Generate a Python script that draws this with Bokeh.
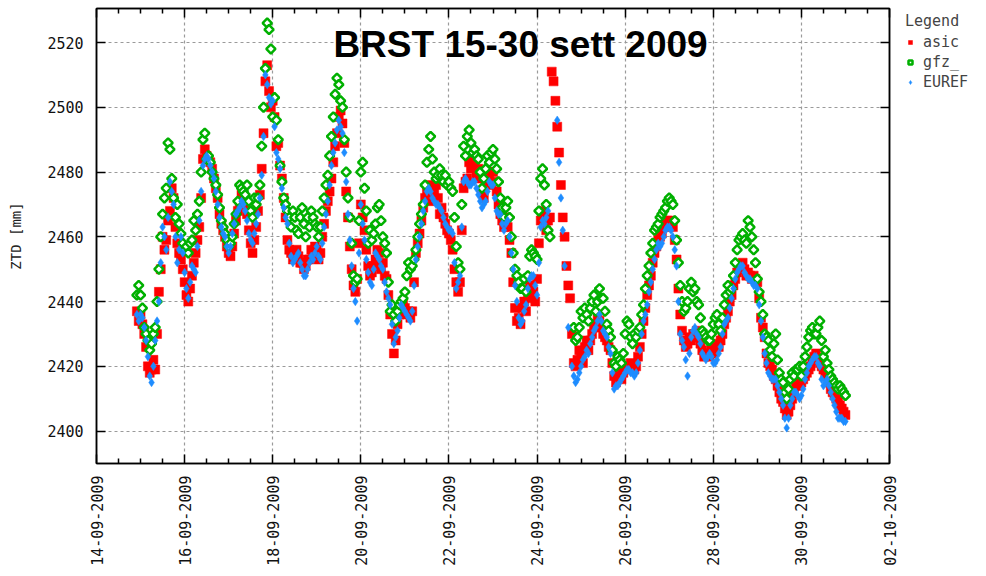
import math
import numpy as np
import pandas as pd
from bokeh.plotting import figure
from bokeh.layouts import row
from bokeh.models import (Range1d, FixedTicker, DatetimeTickFormatter, LinearAxis,
                          Legend, LegendItem, Label)
from bokeh.embed import file_html
from bokeh.resources import INLINE

# ---------------- data (hourly samples) ----------------
start_time = "2009-09-14 22:00"
step = "1h"

asic = [2437, 2434,
    2436, 2433, 2430, 2426, 2420, 2418, 2419, 2422, 2419, 2430, 2443, 2450,
    2460, 2456, 2459, 2465, 2468, 2475, 2472, 2463, 2458, 2455, 2453, 2450,
    2446, 2442, 2440, 2444, 2448, 2452, 2455, 2459, 2463, 2472, 2484, 2487,
    2485, 2484, 2483, 2481, 2478, 2475, 2472, 2467, 2464, 2462, 2460, 2457,
    2455, 2454, 2457, 2461, 2465, 2468, 2470, 2473, 2471, 2470, 2467, 2462,
    2458, 2455, 2459, 2463, 2468, 2473, 2481, 2492, 2508, 2513, 2505, 2500,
    2502, 2497, 2488, 2489, 2482, 2478, 2472, 2466, 2459, 2456, 2455, 2453,
    2454, 2456, 2454, 2452, 2452, 2450, 2451, 2453, 2453, 2456, 2455, 2457,
    2456, 2453, 2455, 2460, 2464, 2468, 2471, 2474, 2478, 2483, 2488, 2492,
    2497, 2499, 2495, 2489, 2474, 2466, 2457, 2450, 2445, 2443, 2447, 2458,
    2470, 2466, 2462, 2456, 2451, 2448, 2449, 2451, 2453, 2456, 2455, 2450,
    2452, 2448, 2447, 2442, 2436, 2430, 2424, 2428, 2433, 2436, 2438, 2440,
    2438, 2436, 2437, 2435, 2437, 2446, 2455, 2458, 2461, 2465, 2469, 2472,
    2474, 2476, 2473, 2471, 2474, 2476, 2472, 2467, 2469, 2466, 2464, 2462,
    2461, 2459, 2456, 2450, 2446, 2443, 2446, 2462, 2475, 2477, 2478, 2483,
    2481, 2484, 2482, 2479, 2481, 2478, 2474, 2472, 2477, 2480, 2478, 2476,
    2480, 2477, 2474, 2470, 2467, 2465, 2463, 2466, 2463, 2459, 2455, 2446,
    2438, 2434, 2435, 2433, 2438, 2440, 2437, 2441, 2445, 2442, 2443, 2440,
    2447, 2458, 2465, 2468, 2466, 2462, 2465, 2466, 2511, 2508, 2502, 2494,
    2486, 2476, 2466, 2460, 2451, 2445, 2441, 2430, 2421, 2420, 2422, 2425,
    2424, 2421, 2426, 2428, 2425, 2428, 2430, 2432, 2433, 2435, 2434, 2432,
    2430, 2429, 2428, 2426, 2425, 2421, 2417, 2415, 2417, 2418, 2416, 2418,
    2420, 2419, 2420, 2421, 2420, 2419, 2420, 2423, 2426, 2430, 2434, 2438,
    2442, 2445, 2448, 2452, 2455, 2457, 2459, 2460, 2461, 2463, 2464, 2465,
    2464, 2465, 2463, 2459, 2453, 2444, 2436, 2431, 2428, 2426, 2427, 2429,
    2428, 2430, 2430, 2431, 2429, 2427, 2425, 2423, 2424, 2424, 2423, 2425,
    2424, 2426, 2427, 2426, 2428, 2430, 2433, 2435, 2437, 2440, 2442, 2445,
    2447, 2449, 2450, 2451, 2452, 2450, 2448, 2449, 2448, 2447, 2448, 2447,
    2446, 2441, 2435, 2432, 2429, 2424, 2421, 2420, 2419, 2417, 2416, 2414,
    2412, 2410, 2409, 2407, 2405, 2406, 2408, 2410, 2412, 2414, 2415, 2414,
    2415, 2416, 2417, 2418, 2419, 2420, 2422, 2423, 2424, 2422, 2421, 2420,
    2419, 2418, 2417, 2415, 2413, 2412, 2411, 2410, 2409, 2408, 2407, 2406,
    2405]

gfz = [2442, 2445,
    2442, 2438, 2432, 2430, 2428, 2425, 2427, 2430, 2432, 2440, 2450, 2460,
    2467, 2472, 2475, 2489, 2487, 2478, 2472, 2466, 2470, 2464, 2461, 2458,
    2456, 2457, 2455, 2458, 2459, 2465, 2462, 2467, 2471, 2480, 2490, 2492,
    2484, 2485, 2483, 2480, 2478, 2476, 2473, 2469, 2465, 2463, 2461, 2459,
    2457, 2458, 2460, 2464, 2467, 2471, 2476, 2475, 2474, 2473, 2476, 2471,
    2468, 2466, 2472, 2470, 2472, 2476, 2488, 2500, 2512, 2526, 2524, 2518,
    2497, 2503, 2496, 2490, 2482, 2477, 2472, 2470, 2468, 2466, 2463, 2468,
    2466, 2462, 2461, 2466, 2469, 2464, 2460, 2466, 2463, 2468, 2466, 2464,
    2463, 2460, 2463, 2468, 2472, 2476, 2479, 2485, 2491, 2497, 2504, 2509,
    2507, 2502, 2500, 2490, 2480, 2472, 2466, 2458, 2448, 2446, 2447, 2465,
    2480, 2483, 2475, 2468, 2458, 2462, 2459, 2461, 2464, 2469, 2470, 2465,
    2460, 2458, 2455, 2446, 2437, 2439, 2436, 2434, 2437, 2439, 2440, 2441,
    2443, 2448, 2452, 2450, 2451, 2453, 2456, 2460, 2464, 2467, 2470, 2476,
    2483, 2487, 2491, 2484, 2480, 2478, 2479, 2481, 2479, 2477, 2479, 2476,
    2477, 2475, 2474, 2466, 2457, 2452, 2450, 2470, 2488, 2485, 2491, 2493,
    2489, 2486, 2487, 2485, 2484, 2480, 2475, 2478, 2481, 2485, 2483, 2486,
    2487, 2484, 2481, 2477, 2472, 2469, 2466, 2469, 2471, 2466, 2460, 2455,
    2450, 2448, 2446, 2444, 2444, 2447, 2443, 2448, 2454, 2456, 2455, 2454,
    2453, 2468, 2478, 2481, 2476, 2470, 2462, 2460, None, None, None, None,
    None, None, None, None, None, None, None, None, 2432, 2428, 2429, 2432,
    2437, 2435, 2438, 2436, 2434, 2438, 2440, 2442, 2437, 2440, 2444, 2441,
    2441, 2437, 2433, 2431, 2429, 2425, 2421, 2420, 2423, 2422, 2421, 2424,
    2430, 2434, 2433, 2429, 2427, 2430, 2429, 2431, 2432, 2436, 2439, 2444,
    2448, 2451, 2455, 2458, 2462, 2463, 2464, 2466, 2467, 2468, 2469, 2471,
    2472, 2471, 2470, 2465, 2459, 2452, 2445, 2440, 2437, 2438, 2440, 2444,
    2446, 2443, 2444, 2440, 2439, 2435, 2431, 2430, 2429, 2428, 2428, 2430,
    2433, 2435, 2436, 2433, 2431, 2435, 2439, 2442, 2445, 2443, 2444, 2448,
    2452, 2456, 2459, 2460, 2461, 2459, 2458, 2465, 2463, 2460, 2456, 2452,
    2447, 2443, 2440, 2436, 2430, 2429, 2428, 2425, 2423, 2427, 2430, 2422,
    2418, 2416, 2415, 2412, 2410, 2413, 2416, 2418, 2417, 2419, 2419, 2420,
    2417, 2420, 2423, 2426, 2429, 2431, 2432, 2430, 2430, 2432, 2434, 2428,
    2423, 2425, 2421, 2419, 2417, 2416, 2415, 2414, 2413, 2414, 2413, 2412,
    2411]

euref = [2436, 2434,
    2436, 2435, 2432, 2428, 2423, 2417, 2415, 2420, 2428, 2434, 2440, 2452,
    2463, 2460, 2456, 2466, 2477, 2474, 2470, 2460, 2452, 2456, 2460, 2455,
    2449, 2444, 2441, 2446, 2451, 2450, 2449, 2457, 2465, 2474, 2482, 2484,
    2485, 2484, 2482, 2480, 2478, 2474, 2470, 2466, 2463, 2461, 2460, 2457,
    2455, 2457, 2461, 2464, 2467, 2468, 2469, 2471, 2470, 2468, 2465, 2461,
    2459, 2458, 2461, 2464, 2467, 2472, 2479, 2491, 2510, 2507, 2503, 2501,
    2502, 2494, 2486, 2484, 2481, 2475, 2469, 2466, 2464, 2458, 2454, 2452,
    2453, 2454, 2455, 2452, 2450, 2448, 2448, 2450, 2452, 2454, 2453, 2455,
    2457, 2454, 2453, 2458, 2463, 2467, 2471, 2476, 2482, 2486, 2489, 2493,
    2496, 2494, 2492, 2486, 2477, 2467, 2459, 2451, 2444, 2440, 2434, 2455,
    2470, 2464, 2459, 2453, 2449, 2446, 2445, 2450, 2455, 2454, 2453, 2451,
    2450, 2446, 2443, 2441, 2439, 2433, 2427, 2429, 2431, 2435, 2439, 2438,
    2437, 2436, 2435, 2434, 2437, 2445, 2453, 2457, 2460, 2464, 2468, 2471,
    2474, 2475, 2474, 2472, 2471, 2470, 2470, 2469, 2468, 2466, 2464, 2463,
    2462, 2462, 2461, 2452, 2444, 2446, 2448, 2463, 2477, 2478, 2477, 2476,
    2476, 2477, 2477, 2475, 2473, 2471, 2469, 2470, 2471, 2474, 2477, 2476,
    2476, 2472, 2468, 2467, 2467, 2464, 2462, 2464, 2465, 2460, 2455, 2450,
    2445, 2440, 2435, 2433, 2434, 2437, 2439, 2444, 2447, 2448, 2448, 2445,
    2442, 2452, 2463, 2465, 2464, 2466, 2468, None, None, None, None, 2496,
    2483, 2472, 2462, 2451, None, 2432, None, 2420, 2417, 2415, 2416, 2418,
    2420, 2422, 2423, 2425, 2424, 2427, 2429, 2431, 2432, 2434, 2436, 2434,
    2431, 2430, 2429, 2426, 2424, 2418, 2413, 2414, 2414, 2415, 2416, 2417,
    2418, 2419, 2419, 2418, 2418, 2417, 2418, 2421, 2425, 2430, 2434, 2436,
    2439, 2443, 2446, 2450, 2453, 2456, 2458, 2457, 2458, 2460, 2462, 2463,
    2463, 2462, 2460, 2456, 2451, 2440, 2430, 2428, 2426, 2422, 2417, 2424,
    2429, 2431, 2432, 2430, 2429, 2427, 2424, 2423, 2422, 2423, 2424, 2423,
    2421, 2421, 2422, 2424, 2426, 2430, 2433, 2434, 2435, 2438, 2441, 2444,
    2447, 2449, 2450, 2451, 2451, 2449, 2448, 2447, 2447, 2446, 2445, 2445,
    2444, 2439, 2434, 2429, 2424, 2421, 2418, 2417, 2416, 2416, 2416, 2414,
    2412, 2410, 2408, 2404, 2401, 2404, 2408, 2410, 2412, 2412, 2411, 2410,
    2411, 2413, 2416, 2418, 2420, 2421, 2422, 2423, 2423, 2421, 2420, 2416,
    2414, 2415, 2416, 2414, 2412, 2410, 2408, 2406, 2404, 2404, 2404, 2403,
    2403]

series_names = ["asic", "gfz_", "EUREF"]
x_tick_dates = ["2009-09-14", "2009-09-16", "2009-09-18", "2009-09-20", "2009-09-22",
                "2009-09-24", "2009-09-26", "2009-09-28", "2009-09-30", "2009-10-02"]
y_ticks = [2400, 2420, 2440, 2460, 2480, 2500, 2520]
title_text = "BRST 15-30 sett 2009"
y_label = "ZTD [mm]"

# ---------------- build ----------------
def to_arr(vals):
    return np.array([np.nan if v is None else v for v in vals], dtype=float)

t_a = pd.date_range(start_time, periods=len(asic), freq=step)
t_g = pd.date_range(start_time, periods=len(gfz), freq=step)
t_e = pd.date_range(start_time, periods=len(euref), freq=step)
a_vals, g_vals, e_vals = to_arr(asic), to_arr(gfz), to_arr(euref)

def ms(ts):
    return pd.Timestamp(ts).value / 1e6

major_ms = [ms(d) for d in x_tick_dates]
minor_ms = []
for i in range(len(major_ms) - 1):
    span = major_ms[i + 1] - major_ms[i]
    for j in range(1, 4):
        minor_ms.append(major_ms[i] + span * j / 4)

x_ticker = FixedTicker(ticks=major_ms, minor_ticks=minor_ms)
y_ticker = FixedTicker(ticks=y_ticks)

FONT = "DejaVu Sans Mono"
RED, GREEN, BLUE = "#ff0000", "#00b000", "#1e8cff"

red_style = dict(marker="square", size=9, fill_color=RED, line_color=RED, line_width=0.5)
green_style = dict(marker="square", angle=math.pi / 4, size=6.5, fill_color="white",
                   line_color=GREEN, line_width=2.5)
blue_style = dict(marker="diamond", size=8.5, fill_color=BLUE, line_color=BLUE, line_width=0.5)

p = figure(width=901, height=568, x_axis_type="datetime",
           x_range=Range1d(pd.Timestamp(x_tick_dates[0]), pd.Timestamp(x_tick_dates[-1])),
           y_range=Range1d(2390, 2530.5),
           output_backend="svg", toolbar_location=None,
           min_border_left=96, min_border_right=12, min_border_top=8, min_border_bottom=103)

p.background_fill_color = "white"
p.border_fill_color = "white"
p.outline_line_color = "black"
p.outline_line_width = 1.5

fmt = "%d-%m-%Y"
p.xaxis.ticker = x_ticker
p.xaxis.formatter = DatetimeTickFormatter(
    microseconds=fmt, milliseconds=fmt, seconds=fmt, minsec=fmt, minutes=fmt,
    hourmin=fmt, hours=fmt, days=fmt, months=fmt, years=fmt)
p.xaxis.major_label_orientation = math.pi / 2
p.yaxis.ticker = y_ticker

for ax in [p.xaxis[0], p.yaxis[0]]:
    ax.axis_line_color = "black"
    ax.axis_line_width = 1.5
    ax.major_tick_in = 9
    ax.major_tick_out = 0
    ax.minor_tick_in = 5
    ax.minor_tick_out = 0
    ax.major_tick_line_color = "black"
    ax.major_tick_line_width = 1.5
    ax.minor_tick_line_color = "black"
    ax.minor_tick_line_width = 1.5
    ax.major_label_text_font = FONT
    ax.major_label_text_font_size = "15px"
    ax.major_label_text_color = "#111111"
p.yaxis.minor_tick_line_color = None
p.xaxis.major_label_standoff = 12
p.yaxis.major_label_standoff = 13

p.yaxis.axis_label = y_label
p.yaxis.axis_label_text_font = FONT
p.yaxis.axis_label_text_font_size = "14px"
p.yaxis.axis_label_text_font_style = "normal"
p.yaxis.axis_label_text_color = "#222222"
p.yaxis.axis_label_standoff = 20

top_axis = LinearAxis(ticker=x_ticker, major_label_text_font_size="1px",
                      major_label_text_color=None,
                      major_label_standoff=0, axis_line_color="black", axis_line_width=1.5,
                      major_tick_in=9, major_tick_out=0, minor_tick_in=5, minor_tick_out=0,
                      major_tick_line_width=1.5, minor_tick_line_width=1.5)
p.add_layout(top_axis, "above")
right_axis = LinearAxis(ticker=y_ticker, major_label_text_font_size="1px",
                        major_label_text_color=None,
                        major_label_standoff=0, axis_line_color="black", axis_line_width=1.5,
                        major_tick_in=9, major_tick_out=0, minor_tick_line_color=None,
                        major_tick_line_width=1.5)
p.add_layout(right_axis, "right")

for g in [p.xgrid[0], p.ygrid[0]]:
    g.grid_line_color = "#9a9a9a"
    g.grid_line_dash = "3 3"
    g.grid_line_width = 1.2
p.xgrid.ticker = x_ticker
p.ygrid.ticker = y_ticker

p.scatter(t_a, a_vals, **red_style)
p.scatter(t_g, g_vals, **green_style)
p.scatter(t_e, e_vals, **blue_style)

title = Label(x=ms("2009-09-23 15:00"), y=2519.5, text=title_text,
              text_font="Liberation Sans", text_font_style="bold",
              text_font_size="37px", text_align="center", text_baseline="alphabetic",
              text_color="black")
p.add_layout(title)

# ---------------- legend panel: same series, ranges chosen so no point is in view ----
lf = figure(width=84, height=568, x_range=Range1d(0, 1), y_range=Range1d(0, 1),
            x_axis_location=None, y_axis_location=None, toolbar_location=None,
            output_backend="svg", min_border=0)
lf.outline_line_color = None
lf.xgrid.visible = False
lf.ygrid.visible = False
l1 = lf.scatter(t_a, a_vals, **red_style)
l2 = lf.scatter(t_g, g_vals, **green_style)
l3 = lf.scatter(t_e, e_vals, **blue_style)
legend = Legend(items=[LegendItem(label=series_names[0], renderers=[l1]),
                       LegendItem(label=series_names[1], renderers=[l2]),
                       LegendItem(label=series_names[2], renderers=[l3])],
                title="Legend", location="top_left", margin=4, padding=2,
                spacing=2, glyph_width=10, glyph_height=14, label_standoff=8,
                label_height=17, border_line_color=None, background_fill_alpha=0,
                label_text_font=FONT, label_text_font_size="15px",
                title_text_font=FONT, title_text_font_size="15px",
                title_text_font_style="normal", title_standoff=3)
lf.add_layout(legend, "center")

layout = row(p, lf)

with open("out.html", "w") as f:
    f.write(file_html(layout, INLINE))
